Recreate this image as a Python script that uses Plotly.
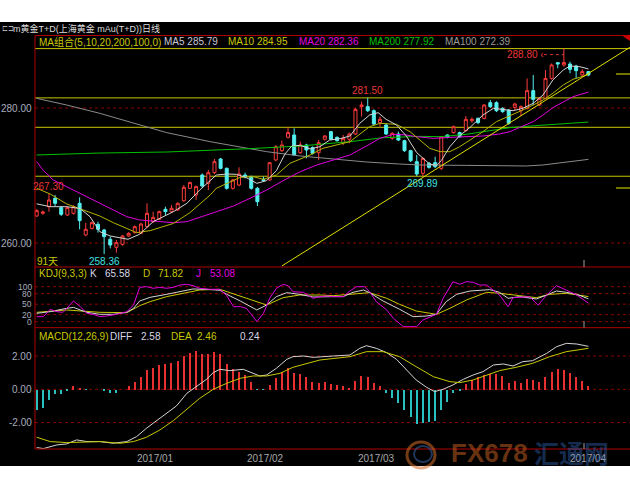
import plotly.graph_objects as go

W, H = 630, 490

# ---------------- data ----------------
day = list(range(91))

opens = [264.0, 264.4, 265.38, 266.62, 265.24, 264.15, 264.4, 265.88, 261.19, 262.17,
         262.77, 261.93, 260.55, 259.36, 259.8, 261.04, 261.53, 261.43, 262.42, 263.16,
         263.51, 264.99, 264.64, 264.89, 266.27, 268.1, 267.11, 270.07, 268.84, 270.42,
         272.44, 271.06, 268.1, 268.59, 270.07, 269.83, 268.1, 269.43, 269.34, 272.3,
         273.68, 275.66, 276.0, 273.38, 274.52, 274.13, 273.38, 275.36, 276.49, 275.65,
         274.86, 275.36, 276.15, 280.2, 280.2, 279.6, 277.83, 277.48, 275.51, 276.15,
         275.16, 273.68, 272.05, 270.32, 271.8, 271.9, 271.06, 276.0, 276.35, 276.35,
         276.64, 278.12, 278.47, 278.47, 280.79, 280.79, 279.95, 279.7, 280.1, 279.6,
         279.95, 282.57, 280.44, 281.43, 284.39, 286.72, 286.37, 286.52, 286.22, 284.89,
         285.39]
highs = [265.0, 264.8, 267.30, 267.1, 265.4, 265.4, 265.6, 266.77, 263.0, 263.2,
         263.16, 262.1, 260.94, 260.45, 261.2, 261.6, 262.6, 263.0, 265.88, 264.64,
         264.8, 265.38, 265.63, 266.0, 268.59, 269.1, 268.5, 270.3, 270.82, 272.44,
         272.6, 271.2, 269.5, 271.21, 270.42, 270.0, 268.3, 269.83, 272.0, 274.5,
         275.16, 277.14, 276.99, 275.01, 274.7, 274.3, 275.26, 276.0, 276.6, 275.8,
         276.0, 276.35, 280.0, 280.94, 281.50, 279.8, 278.72, 277.7, 276.4, 276.5,
         275.3, 273.8, 273.04, 272.7, 272.0, 272.79, 275.8, 276.1, 277.4, 276.5,
         278.81, 278.6, 278.6, 280.6, 281.19, 281.0, 280.1, 279.8, 280.79, 280.4,
         284.39, 284.89, 281.6, 285.63, 286.6, 286.72, 288.80, 286.86, 286.4, 285.73,
         285.5]
lows = [263.9, 264.2, 264.64, 265.48, 264.0, 264.0, 264.2, 262.03, 261.0, 262.0,
        261.53, 258.36, 259.21, 258.57, 259.6, 260.9, 261.4, 261.3, 262.3, 263.0,
        263.4, 264.15, 264.5, 264.8, 266.12, 268.0, 266.4, 268.2, 267.85, 270.2,
        270.9, 267.9, 267.9, 268.4, 269.58, 267.9, 265.48, 269.09, 269.2, 272.1,
        273.5, 275.5, 272.9, 273.19, 272.54, 273.1, 272.3, 275.2, 275.2, 275.0,
        274.52, 274.77, 276.0, 278.72, 279.4, 277.4, 277.24, 276.0, 275.3, 275.1,
        273.5, 272.0, 269.93, 269.89, 271.0, 271.1, 270.8, 275.5, 276.2, 275.6,
        276.5, 277.8, 277.6, 278.3, 280.0, 279.4, 279.3, 277.5, 279.7, 278.82,
        279.8, 280.44, 280.3, 281.3, 284.2, 285.88, 286.12, 285.14, 284.39, 284.74,
        284.7]
closes = [264.8, 264.6, 266.37, 265.88, 264.25, 265.24, 265.38, 263.31, 262.03, 263.01,
          262.03, 260.94, 259.7, 260.05, 261.04, 261.43, 262.42, 262.81, 264.4, 263.8,
          264.64, 264.64, 265.14, 265.88, 268.25, 268.94, 268.35, 268.45, 270.42, 272.05,
          271.06, 268.1, 269.34, 270.22, 269.83, 268.1, 266.12, 269.23, 271.9, 274.27,
          274.52, 276.35, 273.04, 274.52, 273.78, 273.28, 274.86, 275.85, 275.36, 275.16,
          275.51, 276.15, 279.8, 280.45, 279.6, 277.63, 278.32, 276.15, 276.25, 275.26,
          273.68, 272.2, 270.22, 272.54, 271.21, 271.31, 275.75, 275.65, 277.23, 275.75,
          278.32, 278.32, 277.83, 280.44, 280.2, 279.6, 279.46, 277.73, 280.59, 280.2,
          282.57, 281.28, 281.43, 284.39, 286.37, 286.52, 286.72, 285.73, 285.53, 285.39,
          284.89]

ma5_x = [0, 2.2, 4.9, 7.1, 8.7, 10.3, 12.0, 14.9, 16.8, 19.0, 22.3, 24.5, 26.6, 28.3, 29.3, 31.0,
         32.6, 34.2, 35.9, 37.5, 39.1, 40.5, 41.6, 43.0, 44.6, 46.2, 47.8, 49.5, 51.1, 52.7, 54.3,
         55.7, 57.0, 58.7, 60.3, 62.0, 64.1, 65.2, 66.0, 67.4, 69.0, 70.7, 72.8, 74.5, 76.1, 77.7,
         79.3, 81.0, 82.6, 84.2, 85.9, 87.0, 88.6, 90]
ma5_y = [265.8, 265.38, 265.38, 265.1, 263.9, 261.68, 261.04, 260.55, 261.3, 263.16, 264.64, 265.88,
         267.85, 269.33, 270.07, 270.22, 270.17, 269.68, 268.84, 269.23, 270.72, 273.19, 274.37,
         274.47, 273.93, 274.27, 275.26, 275.46, 275.85, 277.73, 278.96, 279.31, 278.32, 277.48,
         275.85, 273.38, 271.7, 271.5, 272.2, 274.27, 275.9, 277.13, 278.96, 279.95, 279.8, 279.6,
         279.95, 280.69, 281.93, 284.15, 285.63, 286.22, 286.12, 285.79]

ma10_x = [0, 2.2, 4.9, 8.2, 10.3, 12.5, 14.7, 16.3, 18.5, 22.3, 25.0, 28.3, 29.3, 31.0, 33.2, 35.3,
          37.0, 39.1, 41.3, 44.6, 46.7, 51.1, 52.2, 54.3, 56.0, 58.7, 60.9, 62.5, 64.1, 65.8, 67.4,
          69.0, 70.7, 72.8, 75.0, 77.2, 79.3, 81.0, 82.6, 84.2, 85.9, 87.5, 90]
ma10_y = [268.1, 267.26, 265.78, 264.64, 264.0, 263.01, 262.12, 261.53, 261.83, 262.9, 264.5,
          267.11, 268.1, 268.84, 269.73, 269.83, 269.43, 270.07, 271.8, 273.04, 274.03, 275.01,
          275.75, 277.23, 277.73, 277.58, 276.49, 275.26, 274.03, 273.53, 273.53, 274.27, 275.26,
          276.49, 277.98, 278.82, 279.7, 280.44, 281.19, 282.17, 283.41, 284.25, 284.95]

ma20_x = [0, 1.1, 2.7, 5.4, 8.2, 10.3, 12.5, 14.7, 16.8, 19.6, 22.3, 24.5, 26.6, 28.3, 29.3, 32.1,
          34.8, 37.5, 40.2, 43.0, 45.7, 48.4, 51.1, 53.8, 56.0, 58.2, 60.3, 62.0, 64.7, 67.4, 70.1,
          72.8, 75.5, 77.2, 78.8, 81.0, 82.6, 84.2, 85.9, 87.5, 90]
ma20_y = [272.05, 270.72, 269.33, 268.1, 266.77, 265.78, 264.79, 263.9, 263.41, 263.16, 263.01,
          263.16, 263.8, 264.3, 264.64, 265.48, 266.62, 267.85, 269.23, 270.57, 271.56, 272.3,
          273.04, 274.37, 275.51, 276.1, 276.0, 275.75, 275.5, 275.65, 275.75, 275.85, 276.15,
          276.49, 277.13, 277.98, 278.96, 280.05, 280.89, 281.68, 282.36]

ma200_x = [0, 10.3, 21.2, 28.3, 34.8, 43.0, 51.1, 56.5, 62.5, 65.8, 70.1, 73.9, 77.2, 82.1, 86.4, 90]
ma200_y = [273.04, 273.33, 273.48, 273.73, 273.98, 274.37, 275.01, 275.6, 275.8, 275.75, 276.1,
           276.64, 277.09, 277.43, 277.73, 277.92]

ma100_x = [0, 4.9, 10.3, 15.8, 21.2, 28.3, 32.1, 37.5, 43.0, 48.4, 53.8, 59.2, 62.5, 70.1, 79.9,
           82.6, 86.4, 90]
ma100_y = [281.43, 280.44, 279.21, 277.73, 276.35, 275.01, 274.37, 273.53, 272.89, 272.4, 272.0,
           271.7, 271.56, 271.5, 271.41, 271.56, 272.0, 272.39]

k_x = [0, 2.2, 4.9, 6.0, 7.1, 8.2, 10.3, 12.5, 14.7, 15.8, 16.8, 18.5, 21.2, 23.9, 25.5, 27.7, 29.9,
       31.0, 33.2, 35.9, 37.5, 39.1, 40.8, 42.9, 45.1, 48.4, 50.0, 51.6, 53.3, 54.3, 56.5, 59.2, 61.4,
       63.6, 65.2, 66.8, 68.5, 70.7, 73.9, 75.5, 76.9, 78.8, 81.5, 83.2, 84.8, 86.4, 88.1, 90]
k_y = [23.9, 28.7, 38.2, 41.0, 33.5, 26.8, 21.1, 21.1, 26.8, 38.2, 59.2, 69.6, 78.2, 87.7, 93.5, 92.5,
       89.7, 78.2, 59.2, 33.5, 47.7, 71.6, 83.0, 78.2, 70.6, 71.6, 71.6, 83.9, 90.6, 83.0, 59.2, 35.4,
       14.4, 16.3, 21.1, 57.3, 78.2, 87.7, 91.6, 83.9, 66.8, 71.6, 64.9, 76.3, 87.7, 83.9, 78.2, 65.58]

d_x = [0, 4.9, 10.3, 14.7, 16.8, 18.5, 21.2, 23.9, 26.6, 29.9, 32.1, 34.8, 37.5, 40.2, 42.9, 46.2,
       48.4, 51.1, 54.3, 57.1, 59.2, 61.9, 65.2, 67.4, 70.1, 73.4, 75.5, 78.8, 81.5, 83.7, 86.4, 90]
d_y = [26.8, 33.5, 26.8, 25.8, 45.8, 57.3, 71.6, 81.1, 90.6, 92.5, 79.2, 62.0, 47.7, 68.7, 76.3, 76.3,
       74.4, 78.2, 83.0, 66.8, 49.6, 30.6, 21.1, 38.2, 62.0, 83.9, 81.1, 74.4, 68.7, 78.2, 81.1, 71.82]

j_x = [0, 1.1, 2.2, 3.3, 4.3, 6.0, 7.1, 8.2, 9.2, 10.3, 11.4, 13.0, 14.7, 15.8, 16.8, 17.9, 19.0,
       20.1, 21.2, 22.3, 23.4, 24.5, 25.5, 26.6, 28.3, 29.9, 31.0, 32.1, 33.2, 34.2, 35.1, 35.9, 37.0,
       38.0, 39.1, 40.2, 41.0, 41.8, 43.5, 45.1, 46.2, 47.3, 48.4, 50.0, 51.1, 52.2, 53.5, 54.3, 55.4,
       57.1, 58.2, 59.8, 62.0, 63.0, 64.7, 65.2, 66.3, 67.9, 69.0, 70.1, 71.2, 72.3, 73.4, 74.5, 75.5,
       76.9, 77.7, 78.8, 80.4, 81.8, 83.2, 84.8, 86.4, 88.1, 90]
j_y = [14.4, 14.4, 35.4, 28.7, 26.8, 59.2, 43.0, 23.9, 21.1, 14.4, 16.3, 21.1, 28.7, 47.7, 98.2, 100.1,
       95.4, 98.2, 95.4, 98.2, 104.9, 106.8, 103.0, 95.4, 92.5, 92.5, 74.4, 43.0, 43.0, 38.2, 19.2, 0.1,
       23.9, 66.8, 95.4, 106.8, 103.0, 85.8, 83.9, 66.8, 71.6, 73.5, 71.6, 71.6, 87.7, 100.1, 100.1,
       85.8, 57.3, 33.5, 9.6, -14.2, -14.2, 4.9, 17.3, 21.1, 66.8, 114.4, 106.8, 114.4, 112.5, 104.9,
       104.9, 90.6, 76.3, 43.0, 68.7, 69.6, 71.6, 47.7, 76.3, 103.0, 90.6, 76.3, 53.08]

macd_hist = [-1.24, -1.08, -0.64, -0.28, -0.24, -0.04, 0.2, 0.12, -0.02, 0.0,
             0.0, -0.1, -0.2, -0.2, 0.0, 0.2, 0.46, 0.76, 1.16, 1.3,
             1.46, 1.56, 1.62, 1.72, 2.04, 2.2, 2.3, 2.12, 2.16, 2.24,
             2.12, 1.52, 1.26, 1.06, 0.9, 0.46, -0.02, -0.02, 0.3, 0.72,
             1.06, 1.32, 1.0, 0.96, 0.74, 0.46, 0.42, 0.46, 0.36, 0.26,
             0.2, 0.12, 0.52, 0.8, 0.76, 0.42, 0.2, -0.2, -0.48, -0.8,
             -1.24, -1.64, -2.08, -2.0, -1.94, -1.9, -1.24, -0.74, -0.2, -0.08,
             0.32, 0.56, 0.76, 0.86, 0.96, 0.92, 0.8, 0.4, 0.5, 0.4,
             0.66, 0.56, 0.46, 0.76, 1.06, 1.22, 1.2, 1.0, 0.76, 0.52,
             0.24]

diff_x = [0, 1.1, 3.3, 4.9, 6.5, 8.2, 10.3, 12.5, 14.7, 16.3, 17.9, 19.6, 21.2, 22.8, 24.5, 26.1,
          27.7, 28.8, 29.9, 31.5, 33.7, 35.3, 36.4, 37.5, 39.1, 40.8, 41.8, 43.5, 45.1, 48.4, 51.1,
          52.7, 53.8, 55.4, 57.1, 58.7, 60.3, 61.9, 63.6, 64.9, 66.3, 67.9, 69.6, 71.2, 72.8, 74.5,
          76.1, 77.7, 79.3, 80.9, 83.2, 84.8, 86.4, 88.1, 90]
diff_y = [-3.5, -3.56, -3.34, -3.28, -3.04, -3.14, -3.14, -3.24, -3.14, -2.84, -2.34, -1.88, -1.48,
          -1.0, -0.24, 0.2, 0.6, 1.0, 1.2, 1.12, 1.2, 0.96, 0.8, 0.86, 1.26, 1.8, 1.96, 2.0, 1.92,
          2.0, 2.06, 2.46, 2.62, 2.46, 2.2, 1.8, 1.16, 0.56, 0.12, -0.14, 0.0, 0.26, 0.6, 0.86,
          1.06, 1.46, 1.52, 1.4, 1.66, 1.72, 2.16, 2.56, 2.76, 2.72, 2.58]

dea_x = [0, 2.2, 4.9, 8.2, 10.3, 13.6, 15.8, 17.9, 20.1, 22.3, 24.5, 26.6, 28.8, 31.0, 33.2, 35.3,
         37.5, 39.7, 41.8, 44.0, 46.2, 51.1, 53.8, 56.5, 59.2, 61.9, 64.7, 67.4, 69.0, 71.2, 73.4,
         75.5, 78.2, 80.9, 83.7, 86.4, 90]
dea_y = [-2.88, -3.14, -3.2, -3.14, -3.14, -3.24, -3.14, -2.88, -2.44, -1.88, -1.2, -0.54, 0.0,
         0.36, 0.66, 0.8, 0.8, 0.96, 1.32, 1.56, 1.76, 1.96, 2.26, 2.26, 1.96, 1.36, 0.76, 0.46,
         0.4, 0.56, 0.86, 1.12, 1.32, 1.56, 1.96, 2.26, 2.46]

price_ticks = [280, 260]
kdj_ticks = [100, 80, 50, 20, 0]
macd_ticks = [2, 0, -2]
date_labels = ["2017/01", "2017/02", "2017/03", "2017/04"]
date_pos = [19.3, 37.3, 55.4, 90.0]
level_prices = [288.80, 281.50, 277.14, 269.89]
stub_prices = [285.04, 268.15]
trend_x = [40.0, 96.8]
trend_y = [256.6, 289.0]
peak_idx = [2, 54]
trough_idx = [11, 63]
top_idx = 86

# ---------------- geometry ----------------
X0, DX = 36.7, 6.13           # px of first candle, px per candle


def px2i(px):
    return (px - X0) / DX


def fx(px):
    return px / W


def fy(py):
    return 1 - py / H


T_MAIN, B_MAIN, B_KDJ, B_MACD = 35.5, 267.0, 327.7, 449.0
AX_X = 35.0
main_range = [280 - (B_MAIN - 108) / 6.75, 280 + (108 - T_MAIN) / 6.75]
kdj_range = [(321.7 - B_KDJ) / 0.35, (321.7 - B_MAIN) / 0.35]
macd_range = [(389.3 - B_MACD) / 16.65, (389.3 - B_KDJ) / 16.65]

FONT = "Liberation Sans, Noto Sans CJK SC, sans-serif"
RED = "#ff3c3c"
CYAN = "#54f0f0"
WHITE = "#d4d4d4"
YEL = "#c8c800"
MAG = "#e000e0"
GREEN = "#00c000"
GRAY = "#8a8a8a"
AXC = "#a8acbc"

fig = go.Figure()

# ---------------- main panel ----------------
fig.add_trace(go.Candlestick(
    x=day, open=opens, high=highs, low=lows, close=closes,
    increasing=dict(line=dict(color=RED, width=1), fillcolor="#000000"),
    decreasing=dict(line=dict(color=CYAN, width=1), fillcolor=CYAN),
    whiskerwidth=0, hoverinfo="skip", xaxis="x", yaxis="y"))

for xs, ys, col in [(ma100_x, ma100_y, GRAY), (ma200_x, ma200_y, GREEN),
                    (ma20_x, ma20_y, MAG), (ma10_x, ma10_y, "#b4b400"),
                    (ma5_x, ma5_y, WHITE)]:
    fig.add_trace(go.Scatter(x=xs, y=ys, mode="lines", line=dict(color=col, width=1),
                             hoverinfo="skip", xaxis="x", yaxis="y"))

fig.add_trace(go.Scatter(x=trend_x, y=trend_y, mode="lines", line=dict(color="#e0e000", width=1),
                         hoverinfo="skip", xaxis="x", yaxis="y"))

# ---------------- KDJ ----------------
for xs, ys, col in [(d_x, d_y, YEL), (k_x, k_y, WHITE), (j_x, j_y, MAG)]:
    fig.add_trace(go.Scatter(x=xs, y=ys, mode="lines", line=dict(color=col, width=1),
                             hoverinfo="skip", xaxis="x", yaxis="y2"))

# ---------------- MACD ----------------
fig.add_trace(go.Bar(x=day, y=macd_hist, width=0.2,
                     marker=dict(color=["#e83030" if v >= 0 else "#28c0c0" for v in macd_hist],
                                 line=dict(width=0)),
                     hoverinfo="skip", xaxis="x", yaxis="y3"))
fig.add_trace(go.Scatter(x=diff_x, y=diff_y, mode="lines", line=dict(color=WHITE, width=1),
                         hoverinfo="skip", xaxis="x", yaxis="y3"))
fig.add_trace(go.Scatter(x=dea_x, y=dea_y, mode="lines", line=dict(color=YEL, width=1),
                         hoverinfo="skip", xaxis="x", yaxis="y3"))

shapes = []
# black background
shapes.append(dict(type="rect", xref="paper", yref="paper", x0=0, x1=1, y0=fy(466), y1=fy(22),
                   fillcolor="#000000", line=dict(width=0), layer="below"))
# dotted grid
grid = dict(color="#8a0000", width=1, dash="dot")
for v in price_ticks:
    shapes.append(dict(type="line", xref="paper", yref="y", x0=fx(AX_X), x1=1, y0=v, y1=v,
                       line=grid, layer="below"))
for v in kdj_ticks:
    shapes.append(dict(type="line", xref="paper", yref="y2", x0=fx(AX_X), x1=1, y0=v, y1=v,
                       line=grid, layer="below"))
for v in macd_ticks:
    shapes.append(dict(type="line", xref="paper", yref="y3", x0=fx(AX_X), x1=1, y0=v, y1=v,
                       line=grid, layer="below"))
# horizontal user lines
for v in level_prices:
    shapes.append(dict(type="line", xref="paper", yref="y", x0=fx(AX_X), x1=1, y0=v, y1=v,
                       line=dict(color="#c8c800", width=1), layer="below"))
for v in stub_prices:
    shapes.append(dict(type="line", xref="paper", yref="y", x0=fx(616), x1=1, y0=v, y1=v,
                       line=dict(color="#9a9a00", width=1.5)))
# panel frame (red)
for yy in [T_MAIN, B_MAIN, B_KDJ, B_MACD]:
    shapes.append(dict(type="line", xref="paper", yref="paper", x0=fx(AX_X), x1=1,
                       y0=fy(yy), y1=fy(yy), line=dict(color="#b00000", width=1)))
shapes.append(dict(type="line", xref="paper", yref="paper", x0=fx(AX_X), x1=fx(AX_X),
                   y0=fy(B_MACD), y1=fy(T_MAIN), line=dict(color="#b00000", width=1)))
shapes.append(dict(type="path", xref="paper", yref="paper",
                   path=f"M {fx(622)} {fy(T_MAIN)} L {fx(630)} {fy(T_MAIN)} L {fx(630)} {fy(41)} Z",
                   fillcolor="#d00000", line=dict(width=0)))
# small cursor ticks
for a, b in [(260, B_MAIN), (321, B_KDJ), (443, B_MACD)]:
    shapes.append(dict(type="line", xref="paper", yref="paper", x0=fx(584), x1=fx(584),
                       y0=fy(b), y1=fy(a), line=dict(color="#a0a0a0", width=1)))
# arrow of the top label
shapes.append(dict(type="line", xref="x", yref="y", x0=top_idx - 20 / DX, x1=top_idx,
                   y0=highs[top_idx] - 6 / 6.75, y1=highs[top_idx] - 6 / 6.75,
                   line=dict(color="#e03838", width=1, dash="dot")))
# watermark logo rings
shapes.append(dict(type="circle", xref="paper", yref="paper", x0=fx(407), x1=fx(435),
                   y0=fy(468), y1=fy(442), line=dict(color="rgba(210,110,40,0.55)", width=3)))
shapes.append(dict(type="circle", xref="paper", yref="paper", x0=fx(414), x1=fx(432),
                   y0=fy(462), y1=fy(446), line=dict(color="rgba(60,110,180,0.5)", width=2)))

ann = []


def txt(x, y, s, color, size=10, anchor="left", family=FONT):
    ann.append(dict(x=fx(x), y=fy(y), xref="paper", yref="paper", text=s, showarrow=False,
                    xanchor=anchor, yanchor="middle", borderpad=0,
                    font=dict(color=color, size=size, family=family)))


# title
txt(1, 28.5, "⊏⊐", "#b0b0b0", 7)
txt(12, 28.5, "m黄金T+D(上海黄金 mAu(T+D))日线", "#dcdcdc", 9)
# MA legend
txt(38, 41.5, "MA组合(5,10,20,200,100,0)", YEL)
txt(163, 41.5, f"MA5 {ma5_y[-1]:.2f}", "#c8c8dc")
txt(227, 41.5, f"MA10 {ma10_y[-1]:.2f}", YEL)
txt(298, 41.5, f"MA20 {ma20_y[-1]:.2f}", MAG)
txt(368, 41.5, f"MA200 {ma200_y[-1]:.2f}", GREEN)
txt(444, 41.5, f"MA100 {ma100_y[-1]:.2f}", "#9a9a9a")
# KDJ legend
txt(38, 273.5, "KDJ(9,3,3)", YEL)
txt(89, 273.5, "K", "#d8d8e8")
txt(104, 273.5, f"{k_y[-1]:.2f}", "#d8d8e8")
txt(142, 273.5, "D", YEL)
txt(157, 273.5, f"{d_y[-1]:.2f}", YEL)
txt(195, 273.5, "J", MAG)
txt(209, 273.5, f"{j_y[-1]:.2f}", MAG)
# MACD legend
txt(38, 336, "MACD(12,26,9)", YEL)
txt(109, 336, "DIFF", "#d8d8e8")
txt(140, 336, f"{diff_y[-1]:.2f}", "#d8d8e8")
txt(170, 336, "DEA", YEL)
txt(196, 336, f"{dea_y[-1]:.2f}", YEL)
txt(239, 336, f"{macd_hist[-1]:.2f}", "#d8d8e8")
# misc
txt(36, 261, "91天", YEL)

# axis labels
for v in price_ticks:
    ann.append(dict(x=fx(33), y=v, xref="paper", yref="y", text=f"{v:.2f}", showarrow=False,
                    xanchor="right", yanchor="middle", borderpad=0,
                    font=dict(color=AXC, size=10, family=FONT)))
for v in kdj_ticks:
    ann.append(dict(x=fx(33), y=v, xref="paper", yref="y2", text=f"{v}", showarrow=False,
                    xanchor="right", yanchor="middle", borderpad=0,
                    font=dict(color=AXC, size=8.5, family=FONT)))
for v in macd_ticks:
    ann.append(dict(x=fx(33), y=v, xref="paper", yref="y3", text=f"{v:.2f}", showarrow=False,
                    xanchor="right", yanchor="middle", borderpad=0,
                    font=dict(color=AXC, size=10, family=FONT)))
for lab, pos in zip(date_labels, date_pos):
    ann.append(dict(x=pos, y=fy(458), xref="x", yref="paper", text=lab, showarrow=False,
                    xanchor="center", yanchor="middle", borderpad=0,
                    font=dict(color="#a8a8a8", size=10, family=FONT)))

# high / low markers
for i in peak_idx:
    ann.append(dict(x=i, y=highs[i], xref="x", yref="y", text=f"{highs[i]:.2f}", showarrow=False,
                    xanchor="center", yanchor="middle", yshift=7, borderpad=0,
                    font=dict(color="#e83838", size=10, family=FONT)))
for i in trough_idx:
    ann.append(dict(x=i, y=lows[i], xref="x", yref="y", text=f"{lows[i]:.2f}", showarrow=False,
                    xanchor="center", yanchor="middle", yshift=-7, borderpad=0,
                    font=dict(color="#40e0e0", size=10, family=FONT)))
ann.append(dict(x=top_idx, y=highs[top_idx], xref="x", yref="y", text=f"{highs[top_idx]:.2f} ‹",
                showarrow=False, xanchor="right", yanchor="middle", xshift=-19, yshift=-6,
                borderpad=0, font=dict(color="#e83838", size=10, family=FONT)))

# watermark
ann.append(dict(x=fx(449), y=fy(453), xref="paper", yref="paper", text="<b>FX678</b>",
                showarrow=False, xanchor="left", yanchor="middle",
                font=dict(color="rgba(175,85,30,0.6)", size=26,
                          family="Liberation Sans Narrow, Liberation Sans, sans-serif")))
ann.append(dict(x=fx(532), y=fy(452), xref="paper", yref="paper", text="<b>汇通网</b>",
                showarrow=False, xanchor="left", yanchor="middle",
                font=dict(color="rgba(50,100,180,0.45)", size=25, family="Noto Sans CJK SC")))

fig.update_layout(
    width=W, height=H, margin=dict(l=0, r=0, t=0, b=0),
    paper_bgcolor="white", plot_bgcolor="#000000", showlegend=False,
    xaxis=dict(range=[px2i(0), px2i(W)], visible=False, rangeslider=dict(visible=False),
               fixedrange=True),
    yaxis=dict(domain=[fy(B_MAIN), fy(T_MAIN)], range=main_range, visible=False, fixedrange=True),
    yaxis2=dict(domain=[fy(B_KDJ), fy(B_MAIN)], range=kdj_range, visible=False, anchor="x",
                fixedrange=True),
    yaxis3=dict(domain=[fy(B_MACD), fy(B_KDJ)], range=macd_range, visible=False, anchor="x",
                fixedrange=True),
    shapes=shapes, annotations=ann, bargap=0,
)

fig.write_html("out.html", config=dict(displayModeBar=False),
               post_script="document.body.style.margin='0';document.body.style.padding='0';")
